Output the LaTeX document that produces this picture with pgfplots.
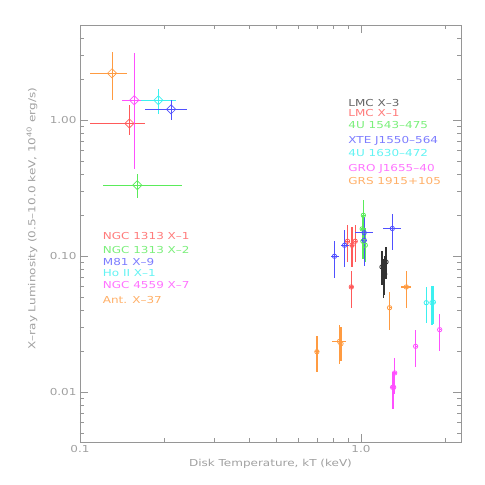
\documentclass[border=0pt]{standalone}
\usepackage{fontspec}
\setmainfont{DejaVu Sans}[FakeStretch=1.25]
\usepackage{pgfplots}
\pgfplotsset{compat=1.18}
\usepackage{pgfplotstable}

\definecolor{axgray}{RGB}{150,150,150}
\definecolor{cblack}{RGB}{50,50,50}
\definecolor{cred}{RGB}{255,90,90}
\definecolor{cgreen}{RGB}{90,235,90}
\definecolor{cblue}{RGB}{80,80,255}
\definecolor{ccyan}{RGB}{60,240,240}
\definecolor{cmag}{RGB}{255,80,255}
\definecolor{corange}{RGB}{255,155,65}

% columns: x, x low, x high, y, y low, y high
\pgfplotstableread{
x xlo xhi y ylo yhi
0.150 0.1086 0.171 0.945 0.776 1.29
}\ngcxone
\pgfplotstableread{
x xlo xhi y ylo yhi
0.160 0.121 0.230 0.333 0.267 0.405
}\ngcxtwo
\pgfplotstableread{
x xlo xhi y ylo yhi
0.211 0.171 0.240 1.20 1.00 1.40
}\meightyone
\pgfplotstableread{
x xlo xhi y ylo yhi
0.190 0.165 0.219 1.40 1.11 1.69
}\hoii
\pgfplotstableread{
x xlo xhi y ylo yhi
0.156 0.141 0.175 1.40 0.441 3.09
}\ngcfour
\pgfplotstableread{
x xlo xhi y ylo yhi
0.130 0.1086 0.147 2.21 1.40 3.18
}\antx

\pgfplotstableread{
x xlo xhi y ylo yhi
1.188 1.178 1.198 0.0835 0.062 0.109
1.228 1.218 1.238 0.0908 0.068 0.117
1.204 1.194 1.214 0.0705 0.049 0.095
1.215 1.205 1.225 0.0740 0.052 0.100
}\lmcthree
\pgfplotstableread{
x xlo xhi y ylo yhi
0.896 0.884 0.908 0.129 0.0906 0.169
0.929 0.917 0.941 0.1205 0.0835 0.164
0.954 0.942 0.966 0.129 0.0906 0.169
0.924 0.914 0.934 0.0595 0.0419 0.0781
}\lmcone
\pgfplotstableread{
x xlo xhi y ylo yhi
1.020 1.010 1.030 0.200 0.147 0.258
1.010 1.000 1.020 0.159 0.115 0.200
1.016 1.006 1.026 0.129 0.095 0.175
1.036 1.026 1.046 0.1205 0.0908 0.160
}\fouruone
\pgfplotstableread{
x xlo xhi y ylo yhi
0.805 0.782 0.835 0.100 0.0697 0.129
0.874 0.849 0.903 0.1205 0.0833 0.155
1.027 0.954 1.100 0.149 0.110 0.195
1.027 1.000 1.055 0.131 0.0843 0.170
1.293 1.197 1.392 0.160 0.112 0.206
}\xte
\pgfplotstableread{
x xlo xhi y ylo yhi
1.708 1.700 1.716 0.0456 0.0321 0.0595
1.790 1.782 1.798 0.0456 0.0315 0.0610
1.810 1.802 1.818 0.0460 0.0320 0.0600
}\fouruthree
\pgfplotstableread{
x xlo xhi y ylo yhi
1.906 1.896 1.916 0.0289 0.0201 0.0375
1.565 1.555 1.575 0.0218 0.0153 0.0286
1.318 1.308 1.328 0.0139 0.0098 0.0180
1.296 1.286 1.306 0.0109 0.0076 0.0141
1.307 1.297 1.317 0.0109 0.0076 0.0141
}\gro
\pgfplotstableread{
x xlo xhi y ylo yhi
1.450 1.392 1.510 0.0595 0.0419 0.0781
1.264 1.254 1.274 0.0419 0.0287 0.0546
0.697 0.685 0.710 0.0199 0.0141 0.0258
0.839 0.788 0.886 0.0237 0.0163 0.0312
0.849 0.839 0.859 0.0228 0.0170 0.0300
}\grs

\pgfplotsset{
  table/errtab/.style={x=x, y=y,
    x error plus expr=\thisrow{xhi}-\thisrow{x},
    x error minus expr=\thisrow{x}-\thisrow{xlo},
    y error plus expr=\thisrow{yhi}-\thisrow{y},
    y error minus expr=\thisrow{y}-\thisrow{ylo}},
  ulx/.style={#1, only marks, mark=square, mark size=3.2bp,
    mark options={rotate=45, line width=0.7bp, fill=none},
    error bars/.cd, x dir=both, x explicit, y dir=both, y explicit,
    error mark=none, error bar style={#1, line width=1bp}},
  gbh/.style={#1, only marks, mark=o, mark size=2.2bp,
    mark options={line width=0.8bp},
    error bars/.cd, x dir=both, x explicit, y dir=both, y explicit,
    error mark=none, error bar style={#1, line width=1.3bp}},
}

\begin{document}
\begin{tikzpicture}
\begin{axis}[
  scale only axis,
  width=381bp, height=417.3bp,
  xmode=log, ymode=log,
  xmin=0.1, xmax=2.27,
  ymin=0.0043, ymax=5,
  axis line style={axgray, line width=0.8bp},
  tick style={axgray, line width=0.8bp},
  major tick length=8bp, minor tick length=4bp,
  xtick={0.1,1}, xticklabels={0.1,1.0},
  minor xtick={0.2,0.3,0.4,0.5,0.6,0.7,0.8,0.9,2},
  ytick={0.01,0.1,1}, yticklabels={0.01,0.10,1.00},
  minor ytick={0.005,0.006,0.007,0.008,0.009,0.02,0.03,0.04,0.05,0.06,0.07,0.08,0.09,0.2,0.3,0.4,0.5,0.6,0.7,0.8,0.9,2,3,4},
  ticklabel style={font=\fontsize{9.6bp}{11bp}\selectfont, text=axgray!90},
  /pgf/number format/assume math mode=true,
  label style={font=\fontsize{9.6bp}{11bp}\selectfont, text=axgray!90},
  xlabel={Disk Temperature, kT (keV)},
  ylabel={X--ray Luminosity (0.5--10.0 keV, 10\textsuperscript{40} erg/s)},
  xlabel style={at={(axis description cs:0.5,-0.0527)}, anchor=center},
  ylabel style={at={(axis description cs:-0.126,0.536)}, anchor=center},
  clip=false,
]
\addplot[ulx=cred] table[errtab] {\ngcxone};
\addplot[ulx=cgreen] table[errtab] {\ngcxtwo};
\addplot[ulx=cmag] table[errtab] {\ngcfour};
\addplot[ulx=ccyan] table[errtab] {\hoii};
\addplot[ulx=cblue] table[errtab] {\meightyone};
\addplot[ulx=corange] table[errtab] {\antx};

\addplot[gbh=cred] table[errtab] {\lmcone};
\addplot[gbh=cgreen] table[errtab] {\fouruone};
\addplot[gbh=cblue] table[errtab] {\xte};
\addplot[gbh=cblack] table[errtab] {\lmcthree};
\addplot[gbh=ccyan] table[errtab] {\fouruthree};
\addplot[gbh=cmag] table[errtab] {\gro};
\addplot[gbh=corange] table[errtab] {\grs};

\begin{scope}[every node/.style={anchor=base west, inner sep=0pt, font=\fontsize{9.6bp}{11bp}\selectfont}]
\node[text=cblack!75] at (rel axis cs:0.704,0.804) {LMC X--3};
\node[text=cred!80] at (rel axis cs:0.704,0.780) {LMC X--1};
\node[text=cgreen!80] at (rel axis cs:0.704,0.752) {4U 1543--475};
\node[text=cblue!75] at (rel axis cs:0.704,0.716) {XTE J1550--564};
\node[text=ccyan!80] at (rel axis cs:0.704,0.6856) {4U 1630--472};
\node[text=cmag!80] at (rel axis cs:0.704,0.6497) {GRO J1655--40};
\node[text=corange!80] at (rel axis cs:0.704,0.6185) {GRS 1915+105};

\node[text=cred!80] at (rel axis cs:0.0596,0.486) {NGC 1313 X--1};
\node[text=cgreen!80] at (rel axis cs:0.0596,0.4524) {NGC 1313 X--2};
\node[text=cblue!75] at (rel axis cs:0.0596,0.423) {M81 X--9};
\node[text=ccyan!80] at (rel axis cs:0.0596,0.3966) {Ho II X--1};
\node[text=cmag!80] at (rel axis cs:0.0596,0.3686) {NGC 4559 X--7};
\node[text=corange!80] at (rel axis cs:0.0596,0.3326) {Ant. X--37};
\end{scope}
\end{axis}
\pgfresetboundingbox
\path[use as bounding box] (-80bp,-42.7bp) rectangle (405bp,442.3bp);
\end{tikzpicture}
\end{document}
